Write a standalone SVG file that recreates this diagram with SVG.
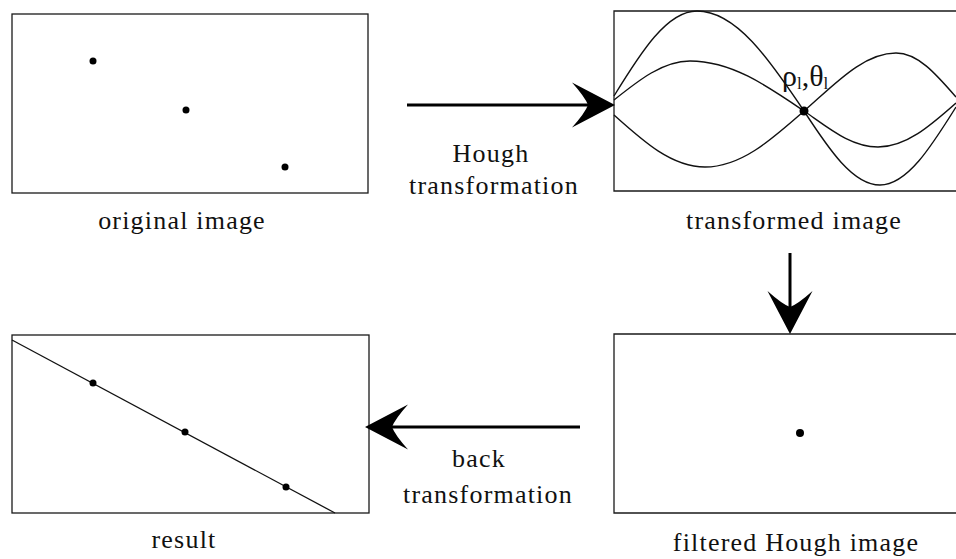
<svg xmlns="http://www.w3.org/2000/svg" width="956" height="559" viewBox="0 0 956 559">
<defs>
<style>
.frame{fill:none;stroke:#1a1a1a;stroke-width:1.3}
.curve{fill:none;stroke:#111;stroke-width:1.4}
.dot{fill:#000}
.lbl{font-family:"Liberation Serif","Times New Roman",serif;font-size:26px;letter-spacing:1.2px;fill:#111;text-anchor:middle}
.sym{font-family:"Liberation Serif","Times New Roman",serif;fill:#111}
.conn{fill:none;stroke:#000;stroke-width:3;marker-end:url(#stealth)}
</style>
<marker id="stealth" markerUnits="userSpaceOnUse" viewBox="-17 -24 46 48" refX="0" refY="0" markerWidth="46" markerHeight="48" orient="auto">
<path d="M27,0 L-16,-22.5 Q-3,-8 0,0 Q-3,8 -16,22.5 Z" fill="#000"/>
</marker>
</defs>
<rect width="956" height="559" fill="#fff"/>

<g id="original-image">
<rect class="frame" x="12" y="14" width="356" height="179"/>
<circle class="dot" cx="93" cy="61" r="3.5"/>
<circle class="dot" cx="186" cy="110" r="3.5"/>
<circle class="dot" cx="285" cy="167" r="3.5"/>
<text class="lbl" x="182" y="229">original image</text>
</g>

<g id="transformed-image">
<path class="frame" d="M960,11 H614 V191 H960"/>
<path class="curve" d="M614,96 C641,52 667,11 697,11 C736,11 769,59 804,111 C829,149.5 853,185 880,185 C907,185 931,147 956,107"/>
<path class="curve" d="M614,100 C639,80 663,61 690,61 C731,61 766,85 804,111 C830,129 851,147 878,147 C906,147 930,126 956,103"/>
<path class="curve" d="M614,115 C644,142 672,167 705,167 C741,167 771,140 804,111 C834,85 863,53 896,53 C918,53 936,74 956,97"/>
<circle class="dot" cx="804" cy="111" r="4.5"/>
<text class="sym" x="782" y="86" font-size="30">ρ<tspan font-size="17" dy="3">l</tspan><tspan dy="-3">,θ</tspan><tspan font-size="17" dy="3">l</tspan></text>
<text class="lbl" x="794" y="229">transformed image</text>
</g>

<g id="filtered-hough-image">
<path class="frame" d="M960,334 H614 V513 H960"/>
<circle class="dot" cx="800" cy="433" r="4"/>
<text class="lbl" x="796" y="551">filtered Hough image</text>
</g>

<g id="result">
<rect class="frame" x="12" y="335" width="357" height="178"/>
<line x1="12" y1="340" x2="335" y2="513" stroke="#111" stroke-width="1.3"/>
<circle class="dot" cx="93" cy="383" r="3.5"/>
<circle class="dot" cx="185" cy="432" r="3.5"/>
<circle class="dot" cx="286" cy="487" r="3.5"/>
<text class="lbl" x="184" y="548">result</text>
</g>

<g id="connectors">
<line class="conn" x1="407" y1="105" x2="588" y2="105"/>
<line class="conn" x1="790" y1="253" x2="790" y2="307"/>
<line class="conn" x1="580" y1="427" x2="392" y2="427"/>
<text class="lbl" x="491" y="162">Hough</text>
<text class="lbl" x="494" y="194">transformation</text>
<text class="lbl" x="479" y="467">back</text>
<text class="lbl" x="488" y="503">transformation</text>
</g>
</svg>
